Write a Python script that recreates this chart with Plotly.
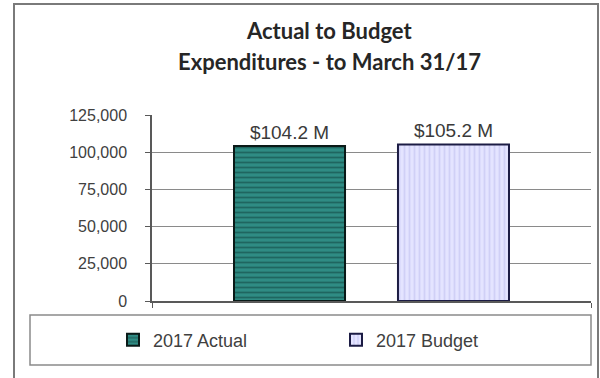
import plotly.graph_objects as go

# ---- data ----
category = ["2017"]
series_names = ["2017 Actual", "2017 Budget"]
values = [104200, 105200]            # in $ thousands
bar_labels = ["$104.2 M", "$105.2 M"]
y_ticks = [0, 25000, 50000, 75000, 100000, 125000]
title_lines = ["Actual to Budget", "Expenditures - to March 31/17"]

# ---- styles ----
fills = ["#2f8c84", "#e4e4ff"]
pattern_shapes = ["-", "|"]
pattern_fg = ["#0f3f3b", "#bcbcee"]
outline = ["#0a1a18", "#1c1c44"]

L, R, T, B = 152, 9, 115, 77
W, H = 600, 378
pw, ph = W - L - R, H - T - B


def px_x(x):
    return (x - L) / pw


def px_y(y):
    return (H - B - y) / ph


fig = go.Figure()
for i, name in enumerate(series_names):
    fig.add_trace(go.Bar(
        x=category, y=[values[i]], name=name,
        text=[bar_labels[i]], textposition="outside", cliponaxis=False,
        textfont=dict(family="Arial, Liberation Sans", size=19, color="#3a3a3a"),
        marker=dict(color=fills[i],
                    line=dict(color=outline[i], width=2),
                    pattern=dict(shape=pattern_shapes[i], fgcolor=pattern_fg[i],
                                 bgcolor=fills[i], size=5, solidity=0.35)),
    ))

for j, line in enumerate(title_lines):
    fig.add_annotation(text="<b>" + line + "</b>", xref="paper", yref="paper",
                       x=px_x(329), y=px_y(31 + j * 30), xanchor="center", yanchor="middle",
                       showarrow=False,
                       font=dict(family="Lato", size=22, color="#262626"))

# outer frame
fig.add_shape(type="rect", xref="paper", yref="paper",
              x0=px_x(14), x1=px_x(598), y0=px_y(390), y1=px_y(4),
              line=dict(color="#7a7a7a", width=2), layer="below")
# legend frame
fig.add_shape(type="rect", xref="paper", yref="paper",
              x0=px_x(30), x1=px_x(591), y0=px_y(365), y1=px_y(315),
              line=dict(color="#8a8a8a", width=1.5), layer="below")

fig.update_layout(
    width=W, height=H,
    margin=dict(l=L, r=R, t=T, b=B),
    paper_bgcolor="white", plot_bgcolor="white",
    barmode="group", bargap=0.253, bargroupgap=0.323,
    font=dict(family="Arial, Liberation Sans", size=16, color="#404040"),
    showlegend=True,
    legend=dict(orientation="h", x=px_x(113), y=px_y(340), xanchor="left", yanchor="middle",
                entrywidth=178, entrywidthmode="pixels",
                font=dict(size=18, color="#404040"), bgcolor="rgba(0,0,0,0)"),
    xaxis=dict(type="category", showticklabels=False, tickson="boundaries",
               ticks="outside", ticklen=5, tickcolor="#595959",
               showline=True, linecolor="#595959", linewidth=1.5, showgrid=False),
    yaxis=dict(range=[0, 125000], tickvals=y_ticks, tickformat=",d",
               ticks="outside", ticklen=5, tickcolor="#595959",
               ticklabelstandoff=15,
               showline=True, linecolor="#595959", linewidth=1.5,
               showgrid=True, gridcolor="#8a8a8a", gridwidth=1, zeroline=False,
               tickfont=dict(size=16, color="#404040")),
)

fig.write_html("out.html")
